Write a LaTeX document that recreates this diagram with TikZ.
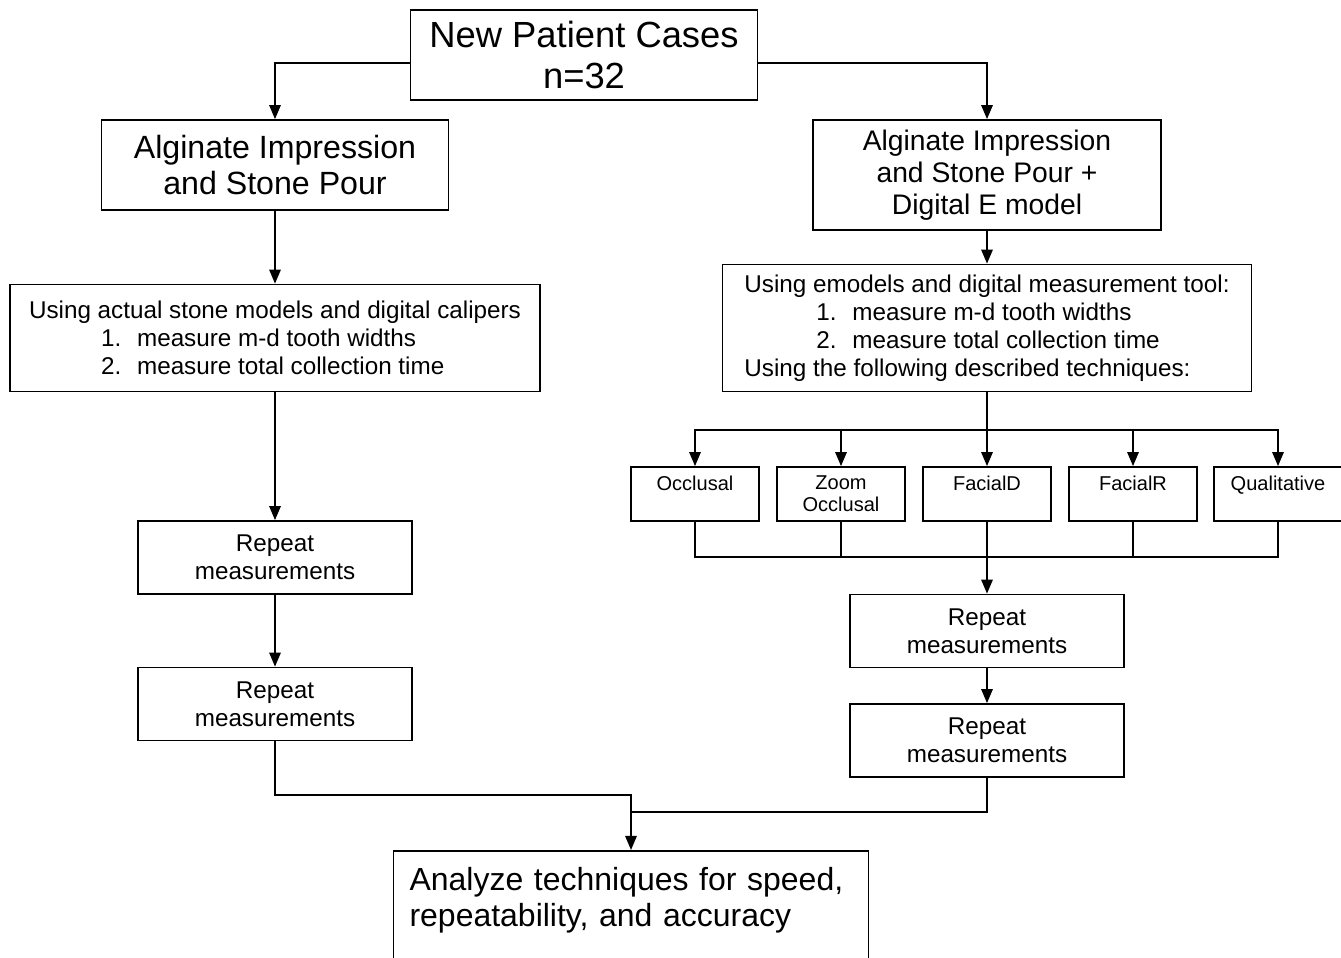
\documentclass[tikz,border=0pt]{standalone}
\usepackage{fontspec}
\setmainfont{Liberation Sans}
\usetikzlibrary{arrows.meta,calc}

\newcommand{\fs}[2]{\fontsize{#1}{#2}\selectfont}
\newcommand{\stepline}[2]{\hspace*{41pt}\makebox[20.5pt][l]{#1}#2}

\begin{document}
\begin{tikzpicture}[x=0.02cm,y=-0.02cm,-,>={Triangle[length=8pt,width=6.5pt]},line width=1pt,
      box/.style={draw,line width=1pt,inner sep=0pt,align=center},
      tech/.style={box,minimum width=2.56cm,minimum height=1.08cm,font=\fs{11.4}{12.5}},
      rep/.style={box,minimum width=5.48cm,minimum height=1.46cm,font=\fs{13.8}{16}}]
      \useasboundingbox (0,0) rectangle (1341,957);

      \node[box,minimum width=6.94cm,minimum height=1.8cm,font=\fs{20.7}{22.8}] (top) at (584,55) {New Patient Cases\\n=32};
      \node[box,minimum width=6.94cm,minimum height=1.8cm,font=\fs{18.3}{20.5}] (algL) at (275,165) {Alginate Impression\\and Stone Pour};
      \node[box,minimum width=6.96cm,minimum height=2.2cm,font=\fs{16.1}{18.2}] (algR) at (987,175) {Alginate Impression\\and Stone Pour +\\Digital E model};

      \node[box,align=left,minimum width=10.6cm,minimum height=2.14cm,font=\fs{13.8}{16}] (measL) at (275,338) {Using actual stone models and digital calipers\\
            \stepline{1.}{measure m-d tooth widths}\\
            \stepline{2.}{measure total collection time}};
      \node[box,align=left,minimum width=10.58cm,minimum height=2.54cm,font=\fs{13.8}{16}] (measR) at (987,328) {Using emodels and digital measurement tool:\\
            \stepline{1.}{measure m-d tooth widths}\\
            \stepline{2.}{measure total collection time}\\
            Using the following described techniques:};

      \node[tech] (occ) at (695,494) {Occlusal\\\mbox{}};
      \node[tech] (zoom) at (841,494) {Zoom\\Occlusal};
      \node[tech] (facD) at (987,494) {FacialD\\\mbox{}};
      \node[tech] (facR) at (1133,494) {FacialR\\\mbox{}};
      \node[tech] (qual) at (1278,494) {Qualitative\\\mbox{}};

      \node[rep] (rep1L) at (275,557.5) {Repeat\\measurements};
      \node[rep] (rep2L) at (275,704) {Repeat\\measurements};
      \node[rep] (rep1R) at (987,631) {Repeat\\measurements};
      \node[rep] (rep2R) at (987,740.5) {Repeat\\measurements};

      \node[box,anchor=north,align=left,inner sep=0.32cm,text width=8.86cm,font=\fs{18.2}{21}] (final) at (631,850)
            {Analyze techniques for speed,\\repeatability, and accuracy\\\mbox{}};

      \coordinate (split) at (987,430);
      \coordinate (join) at (987,557);
      \coordinate (mergeL) at (631,795);
      \coordinate (mergeR) at (631,812);

      % left branch
      \draw[->] ([yshift=-0.16cm]top.west) -| (algL.north);
      \draw[->] (algL) -- (measL);
      \draw[->] (measL) -- (rep1L);
      \draw[->] (rep1L) -- (rep2L);
      \draw[->] (rep2L.south) |- (mergeL) -- (final.north);

      % right branch
      \draw[->] ([yshift=-0.16cm]top.east) -| (algR.north);
      \draw[->] (algR) -- (measR);
      \draw (measR.south) -- (split);
      \foreach \t in {occ,zoom,facD,facR,qual}
        \draw[->] (split) -| (\t.north);
      \foreach \t in {occ,zoom,facR,qual}
        \draw (\t.south) |- (join);
      \draw[->] (facD.south) -- (rep1R.north);
      \draw[->] (rep1R) -- (rep2R);
      \draw (rep2R.south) |- (mergeR);

    \end{tikzpicture}
\end{document}
